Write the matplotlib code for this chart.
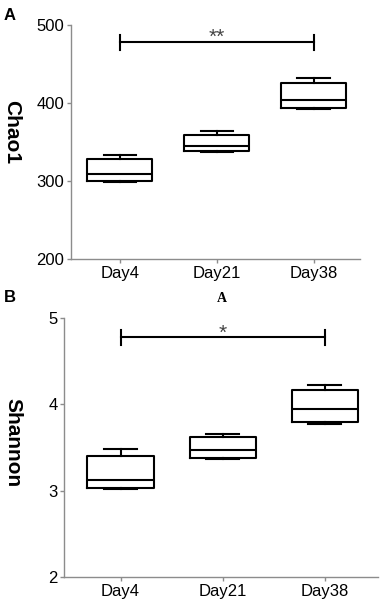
import matplotlib
matplotlib.use("Agg")
import matplotlib.pyplot as plt

plt.rcParams["font.family"] = ["Liberation Sans", "DejaVu Sans"]

# ── Data ──────────────────────────────────────────────────────────────────────
days = ["Day4", "Day21", "Day38"]

# Chao1: whisker low, Q1, median, Q3, whisker high
chao_lo  = [298.3, 336.7, 392.1]
chao_q1  = [299.6, 338.0, 393.4]
chao_med = [309.4, 345.2, 403.2]
chao_q3  = [328.0, 358.8, 425.8]
chao_hi  = [333.7, 363.5, 431.8]

# Shannon
shan_lo  = [3.016, 3.364, 3.767]
shan_q1  = [3.035, 3.380, 3.795]
shan_med = [3.128, 3.469, 3.942]
shan_q3  = [3.403, 3.624, 4.167]
shan_hi  = [3.477, 3.655, 4.225]

chao_ticks = [200, 300, 400, 500]
shan_ticks = [2, 3, 4, 5]

# significance: Day4 vs Day38
chao_sig = ("**", 477.8)
shan_sig = ("*", 4.779)

SPINE = "#8c8c8c"


def make_stats(lo, q1, med, q3, hi):
    return [dict(whislo=a, q1=b, med=c, q3=d, whishi=e, fliers=[])
            for a, b, c, d, e in zip(lo, q1, med, q3, hi)]


def draw_panel(ax, stats, ticks, sig, cap_h, star_off, width, xlim):
    pos = list(range(len(days)))
    line = dict(color="black", linewidth=1.5)
    ax.bxp(stats, positions=pos, widths=width, capwidths=width / 2,
           showfliers=False, boxprops=line, medianprops=line,
           whiskerprops=line, capprops=line)

    # significance bracket
    label, y = sig
    ax.plot([pos[0], pos[-1]], [y, y], color="black", lw=1.5)
    for p in (pos[0], pos[-1]):
        ax.plot([p, p], [y - cap_h, y + cap_h], color="black", lw=1.5)
    ax.text((pos[0] + pos[-1]) / 2, y + star_off, label, ha="center",
            va="center", fontsize=15, color="#444444")

    ax.set_xlim(*xlim)
    ax.set_ylim(ticks[0], ticks[-1])
    ax.set_yticks(ticks)
    ax.set_xticks(pos)
    ax.set_xticklabels(days)
    ax.tick_params(axis="both", labelsize=12, length=3, width=1,
                   color=SPINE, labelcolor="black", pad=2)
    for s in ("top", "right"):
        ax.spines[s].set_visible(False)
    for s in ("left", "bottom"):
        ax.spines[s].set_color(SPINE)
        ax.spines[s].set_linewidth(1)


fig = plt.figure(figsize=(3.83, 6.05), dpi=100)

ax1 = fig.add_axes([0.1854, 0.572, 0.755, 0.3867])
draw_panel(ax1, make_stats(chao_lo, chao_q1, chao_med, chao_q3, chao_hi),
           chao_ticks, chao_sig, 10, 6, 0.67, (-0.505, 2.48))

ax2 = fig.add_axes([0.168, 0.0468, 0.819, 0.4271])
draw_panel(ax2, make_stats(shan_lo, shan_q1, shan_med, shan_q3, shan_hi),
           shan_ticks, shan_sig, 0.09, 0.045, 0.65, (-0.55, 2.52))

# axis titles, rotated clockwise like the original
fig.text(12 / 383, 1 - 132 / 605, "Chao1", rotation=270, ha="center",
         va="center", fontsize=15, fontweight="bold")
fig.text(13 / 383, 1 - 443 / 605, "Shannon", rotation=270, ha="center",
         va="center", fontsize=15, fontweight="bold")

# panel letters
fig.text(10 / 383, 1 - 15 / 605, "A", ha="center", va="center",
         fontsize=12, fontweight="bold")
fig.text(10 / 383, 1 - 298 / 605, "B", ha="center", va="center",
         fontsize=12, fontweight="bold")
fig.text(222 / 383, 1 - 298 / 605, "A", ha="center", va="center",
         fontsize=10, fontweight="bold", family=["Liberation Serif", "DejaVu Serif"])

fig.savefig("out.png", dpi=100)
